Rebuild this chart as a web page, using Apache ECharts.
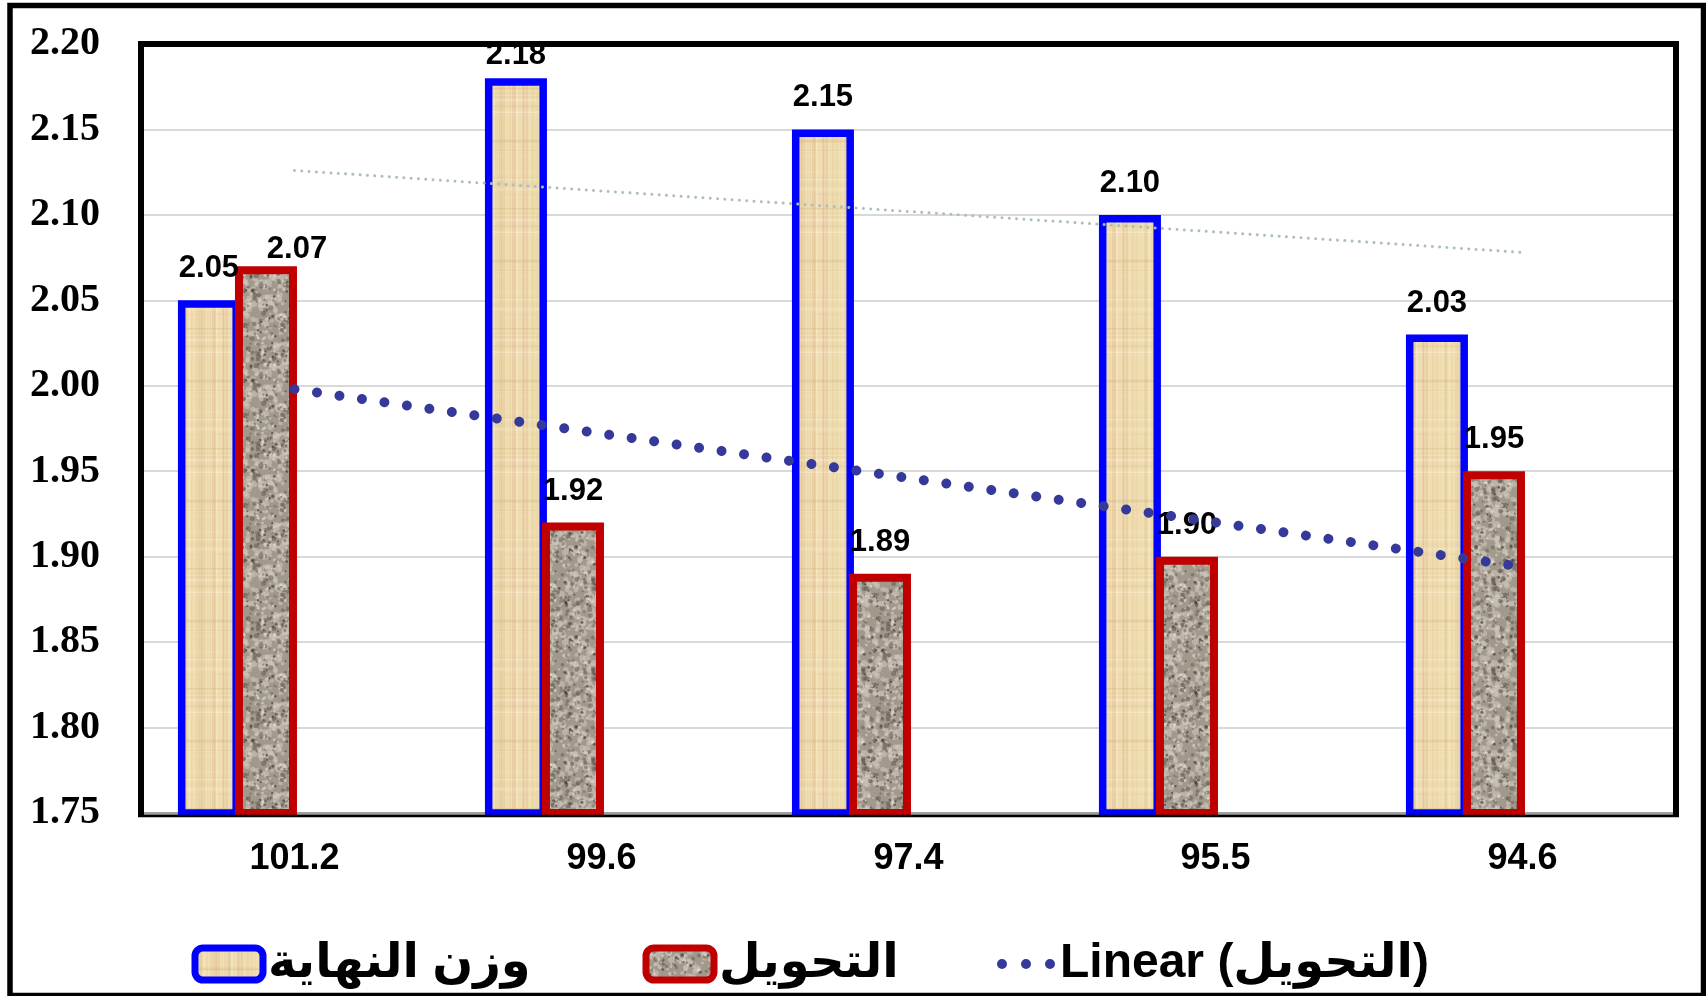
<!DOCTYPE html>
<html>
<head>
<meta charset="utf-8">
<script src="https://cdn.jsdelivr.net/npm/echarts@6/dist/echarts.min.js"></script>
<style>
  html, body { margin: 0; padding: 0; background: #fff; }
  #chart { width: 1706px; height: 996px; }
</style>
</head>
<body>
<div id="chart"></div>
<script>
// Categories on the x axis
const categories = ['101.2', '99.6', '97.4', '95.5', '94.6'];
// وزن النهاية (final weight)
const endWeight = [2.05, 2.18, 2.15, 2.10, 2.03];
// التحويل (conversion)
const conversion = [2.07, 1.92, 1.89, 1.90, 1.95];
// Value axis ticks
const yMin = 1.75;
const yMax = 2.20;
const yStep = 0.05;

const NAME_WEIGHT = 'وزن النهاية';
const NAME_CONV = 'التحويل';
const NAME_CONV_TREND = 'Linear (التحويل)';
const NAME_WEIGHT_TREND = 'Linear (وزن النهاية)';

// Least-squares linear trend evaluated at each category position
function linearTrend(vals) {
  const n = vals.length;
  const xs = vals.map((_, i) => i + 1);
  const mx = xs.reduce((a, b) => a + b, 0) / n;
  const my = vals.reduce((a, b) => a + b, 0) / n;
  let sxy = 0, sxx = 0;
  for (let i = 0; i < n; i++) {
    sxy += (xs[i] - mx) * (vals[i] - my);
    sxx += (xs[i] - mx) * (xs[i] - mx);
  }
  const slope = sxy / sxx;
  return xs.map(x => my + slope * (x - mx));
}

// Small seeded generator so the fill textures look the same on every load
function rng(seed) {
  return function () {
    seed |= 0; seed = seed + 0x6D2B79F5 | 0;
    let t = Math.imul(seed ^ seed >>> 15, 1 | seed);
    t = t + Math.imul(t ^ t >>> 7, 61 | t) ^ t;
    return ((t ^ t >>> 14) >>> 0) / 4294967296;
  };
}

// Papyrus-like tan texture
function papyrusTexture() {
  const W = 60, H = 120;
  const c = document.createElement('canvas');
  c.width = W; c.height = H;
  const g = c.getContext('2d');
  const r = rng(7);
  g.fillStyle = '#ecd8a7';
  g.fillRect(0, 0, W, H);
  for (let i = 0; i < 40; i++) {
    const x = r() * W, w = 0.6 + r() * 2.2;
    g.fillStyle = r() < 0.5 ? 'rgba(214,178,130,0.25)' : 'rgba(250,238,205,0.35)';
    g.fillRect(x, 0, w, H);
  }
  for (let i = 0; i < 30; i++) {
    const y = r() * H, h = 0.5 + r() * 1.5;
    g.fillStyle = r() < 0.5 ? 'rgba(200,170,120,0.15)' : 'rgba(255,245,220,0.25)';
    g.fillRect(0, y, W, h);
  }
  for (let i = 0; i < 5; i++) {
    g.fillStyle = 'rgba(225,160,150,0.25)';
    g.fillRect(r() * W, 0, 1, H);
  }
  return c;
}

// Granite-like speckled texture (blobs wrapped so the tile repeats seamlessly)
function graniteTexture() {
  const S = 90;
  const c = document.createElement('canvas');
  c.width = S; c.height = S;
  const g = c.getContext('2d');
  const r = rng(11);
  g.fillStyle = '#a2998d';
  g.fillRect(0, 0, S, S);
  const dots = (n, col, rmin, rmax) => {
    g.fillStyle = col;
    for (let i = 0; i < n; i++) {
      const x = r() * S, y = r() * S, rad = rmin + r() * (rmax - rmin);
      for (const dx of [-S, 0, S]) {
        for (const dy of [-S, 0, S]) {
          g.beginPath();
          g.arc(x + dx, y + dy, rad, 0, Math.PI * 2);
          g.fill();
        }
      }
    }
  };
  dots(220, 'rgba(208,200,189,0.55)', 1.6, 3.8);
  dots(160, 'rgba(95,86,77,0.5)', 1.0, 2.6);
  dots(120, 'rgba(236,231,222,0.5)', 0.8, 1.8);
  dots(70, 'rgba(58,52,46,0.6)', 0.7, 1.6);
  return c;
}

const tanFill = { image: papyrusTexture(), repeat: 'repeat' };
const graniteFill = { image: graniteTexture(), repeat: 'repeat' };

const BLUE = '#0000ff';
const RED = '#c00000';
const NAVY = '#34399a';
const PALE = '#abc0bb';

// Plot frame geometry (pixels)
const PLOT = { left: 141, right: 1676, top: 44, bottom: 813 };
const BAR_W = 62;
const BAR_GAP = '-8%';

const SANS = "'Liberation Sans', Arial, 'DejaVu Sans', sans-serif";
const valueLabel = {
  show: true,
  position: 'top',
  distance: 16,
  color: '#000',
  fontFamily: SANS,
  fontWeight: 'bold',
  fontSize: 31,
  formatter: p => Number(p.value).toFixed(2)
};

const legendText = {
  color: '#000',
  fontFamily: SANS,
  fontWeight: 'bold',
  fontSize: 48
};

const threeDots = 'path://M0,5a5,5 0 1,0 10,0a5,5 0 1,0 -10,0Z' +
  'M24,5a5,5 0 1,0 10,0a5,5 0 1,0 -10,0Z' +
  'M48,5a5,5 0 1,0 10,0a5,5 0 1,0 -10,0Z';

const chart = echarts.init(document.getElementById('chart'), null, { renderer: 'canvas' });

const option = {
  animation: false,
  backgroundColor: '#ffffff',
  grid: {
    left: PLOT.left,
    right: 1706 - PLOT.right,
    top: PLOT.top,
    bottom: 996 - PLOT.bottom,
    containLabel: false
  },
  xAxis: {
    type: 'category',
    data: categories,
    axisTick: { show: false },
    axisLine: { show: true, lineStyle: { color: '#a0a0a0', width: 3 } },
    axisLabel: {
      margin: 28,
      color: '#000',
      fontFamily: SANS,
      fontWeight: 'bold',
      fontSize: 36
    },
    splitLine: { show: false }
  },
  yAxis: {
    type: 'value',
    min: yMin,
    max: yMax,
    interval: yStep,
    axisLine: { show: false },
    axisTick: { show: false },
    axisLabel: {
      margin: 41,
      color: '#000',
      fontFamily: "'Liberation Serif', 'Times New Roman', serif",
      fontWeight: 'bold',
      fontSize: 40,
      formatter: v => v.toFixed(2)
    },
    splitLine: { show: true, lineStyle: { color: '#d9d9d9', width: 2 } }
  },
  legend: [
    {
      left: 191.5, top: 940, padding: 0,
      selectedMode: false,
      itemWidth: 68, itemHeight: 32,
      textStyle: legendText,
      data: [{ name: NAME_WEIGHT, icon: 'roundRect',
               itemStyle: { color: tanFill, borderColor: BLUE, borderWidth: 7 } }]
    },
    {
      left: 642.5, top: 940, padding: 0,
      selectedMode: false,
      itemWidth: 68, itemHeight: 32,
      textStyle: legendText,
      data: [{ name: NAME_CONV, icon: 'roundRect',
               itemStyle: { color: graniteFill, borderColor: RED, borderWidth: 7 } }]
    },
    {
      left: 997, top: 940, padding: 0,
      selectedMode: false,
      itemWidth: 58, itemHeight: 10,
      textStyle: legendText,
      data: [{ name: NAME_CONV_TREND, icon: threeDots,
               itemStyle: { color: NAVY, borderWidth: 0 } }]
    }
  ],
  series: [
    {
      name: NAME_WEIGHT,
      type: 'bar',
      // the tallest bar's label is pulled down inside the frame
      data: endWeight.map((v, i) => i === 1 ? { value: v, label: { offset: [0, 9] } } : v),
      barWidth: BAR_W,
      barGap: BAR_GAP,
      itemStyle: { color: tanFill, borderColor: BLUE, borderWidth: 7.5 },
      label: valueLabel,
      z: 2
    },
    {
      name: NAME_CONV,
      type: 'bar',
      // the first label sits beside its neighbour's label
      data: conversion.map((v, i) => i === 0 ? { value: v, label: { offset: [31, 15] } } : v),
      barWidth: BAR_W,
      barGap: BAR_GAP,
      itemStyle: { color: graniteFill, borderColor: RED, borderWidth: 8 },
      label: valueLabel,
      z: 2
    },
    // two empty slots per cluster keep the bar pairs left of each tick
    { name: '_slot3', type: 'bar', data: categories.map(() => '-'), barWidth: BAR_W, barGap: BAR_GAP },
    { name: '_slot4', type: 'bar', data: categories.map(() => '-'), barWidth: BAR_W, barGap: BAR_GAP },
    {
      name: NAME_WEIGHT_TREND,
      type: 'line',
      data: linearTrend(endWeight),
      symbol: 'none',
      itemStyle: { color: PALE },
      lineStyle: { color: PALE, width: 3, type: [0.01, 7.3], cap: 'round' },
      z: 3
    },
    {
      name: NAME_CONV_TREND,
      type: 'line',
      data: linearTrend(conversion),
      symbol: 'none',
      itemStyle: { color: NAVY },
      lineStyle: { color: NAVY, width: 10, type: [0.01, 22.7], cap: 'round' },
      z: 4
    }
  ],
  graphic: [
    {
      type: 'rect', silent: true, z: 100,
      shape: { x: 10, y: 5.5, width: 1693.5, height: 990 },
      style: { fill: 'none', stroke: '#000', lineWidth: 5.5 }
    },
    {
      type: 'polyline', silent: true, z: 100,
      shape: { points: [[PLOT.left, PLOT.bottom + 4], [PLOT.left, PLOT.top], [PLOT.right, PLOT.top], [PLOT.right, PLOT.bottom + 4]] },
      style: { fill: 'none', stroke: '#000', lineWidth: 6 }
    },
    {
      type: 'line', silent: true, z: 100,
      shape: { x1: PLOT.left - 3, y1: PLOT.bottom + 3, x2: PLOT.right + 3, y2: PLOT.bottom + 3 },
      style: { stroke: '#000', lineWidth: 2.5 }
    }
  ]
};

chart.setOption(option);
</script>
</body>
</html>
